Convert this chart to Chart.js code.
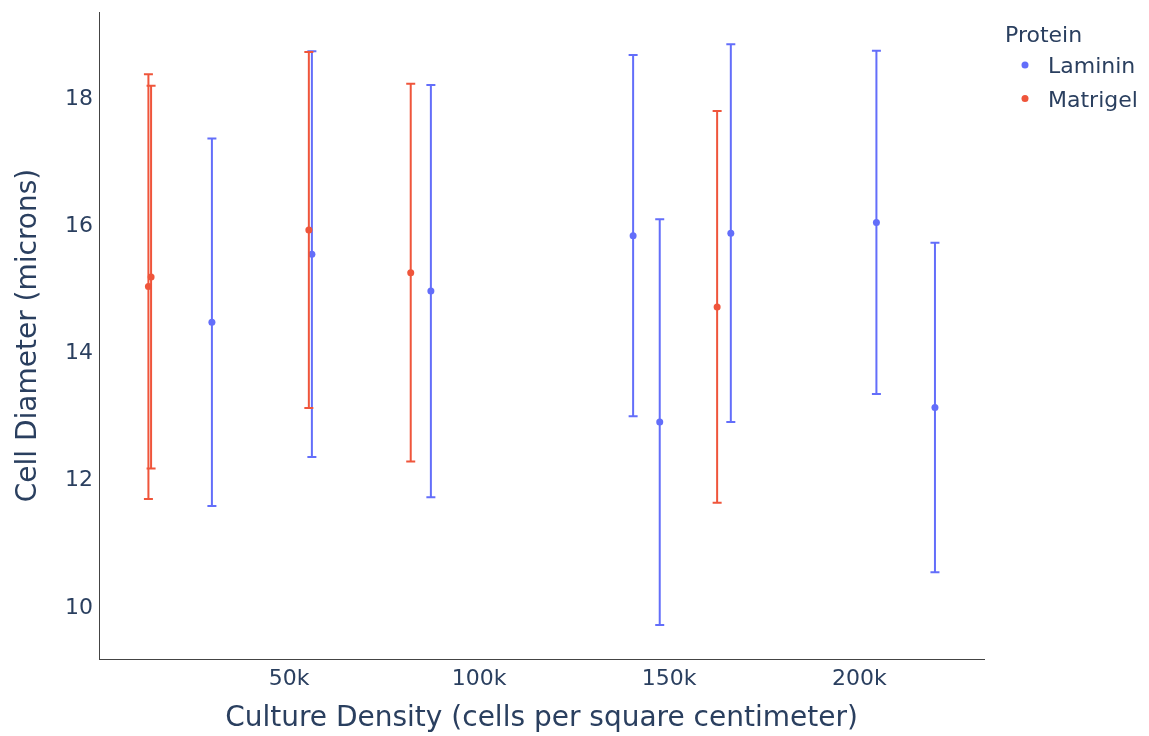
<!DOCTYPE html>
<html>
<head>
<meta charset="utf-8">
<script src="https://cdn.jsdelivr.net/npm/chart.js@4"></script>
<style>
  html, body { margin: 0; padding: 0; background: #fff; }
</style>
</head>
<body>
<canvas id="myChart" width="1149" height="736"></canvas>
<script>
// values
const lamininX = [29700, 56000, 87300, 140500, 147500, 166200, 204500, 219900];
const lamininY = [14.49, 15.56, 14.98, 15.85, 12.92, 15.89, 16.06, 13.15];
const lamininErr = [2.89, 3.19, 3.24, 2.84, 3.19, 2.97, 2.70, 2.59];

const matrigelX = [13000, 13700, 55200, 82000, 162600];
const matrigelY = [15.05, 15.20, 15.94, 15.27, 14.73];
const matrigelErr = [3.34, 3.01, 2.80, 2.97, 3.08];

const xTicks = [50000, 100000, 150000, 200000];
const yTicks = [10, 12, 14, 16, 18];

const legendTitle = 'Protein';
const textColor = '#2a3f5f';
const axisColor = '#444';

Chart.defaults.font.family = '"DejaVu Sans", Verdana, sans-serif';

function toPoints(xs, ys) {
  const pts = [];
  for (let i = 0; i < xs.length; i++) {
    pts.push({ x: xs[i], y: ys[i] });
  }
  return pts;
}

// error bars drawn just under each dataset's markers
const errorBars = {
  id: 'errorBars',
  beforeDatasetDraw(chart, args) {
    const ds = chart.data.datasets[args.index];
    const xScale = chart.scales.x;
    const yScale = chart.scales.y;
    const ctx = chart.ctx;
    ctx.save();
    ctx.strokeStyle = ds.borderColor;
    ctx.lineWidth = 2;
    for (let i = 0; i < ds.data.length; i++) {
      const p = ds.data[i];
      const e = ds.errors[i];
      const px = xScale.getPixelForValue(p.x);
      const top = yScale.getPixelForValue(p.y + e);
      const bot = yScale.getPixelForValue(p.y - e);
      ctx.beginPath();
      ctx.moveTo(px, top);
      ctx.lineTo(px, bot);
      ctx.moveTo(px - 4.5, top);
      ctx.lineTo(px + 4.5, top);
      ctx.moveTo(px - 4.5, bot);
      ctx.lineTo(px + 4.5, bot);
      ctx.stroke();
    }
    ctx.restore();
  },
};

// plotly-style legend on the right
const sideLegend = {
  id: 'sideLegend',
  afterDraw(chart) {
    const ctx = chart.ctx;
    ctx.save();
    ctx.font = '22px "DejaVu Sans"';
    ctx.textBaseline = 'alphabetic';
    ctx.fillStyle = textColor;
    ctx.fillText(legendTitle, 1005, 42);
    chart.data.datasets.forEach((ds, i) => {
      const base = 73.3 + i * 33.4;
      ctx.fillStyle = ds.backgroundColor;
      ctx.beginPath();
      ctx.arc(1025, base - 8.3, 3.5, 0, Math.PI * 2);
      ctx.fill();
      ctx.fillStyle = textColor;
      ctx.fillText(ds.label, 1048, base);
    });
    ctx.restore();
  },
};

const ctx = document.getElementById('myChart').getContext('2d');
new Chart(ctx, {
  type: 'scatter',
  data: {
    datasets: [
      {
        label: 'Laminin',
        data: toPoints(lamininX, lamininY),
        errors: lamininErr,
        backgroundColor: '#636efa',
        borderColor: '#636efa',
        pointRadius: 3.5,
        pointBorderWidth: 0,
        order: 1,
      },
      {
        label: 'Matrigel',
        data: toPoints(matrigelX, matrigelY),
        errors: matrigelErr,
        backgroundColor: '#ef553b',
        borderColor: '#ef553b',
        pointRadius: 3.5,
        pointBorderWidth: 0,
        order: 0,
      },
    ],
  },
  options: {
    responsive: false,
    animation: false,
    layout: { padding: { top: 12, right: 165, left: 0, bottom: 0 } },
    plugins: {
      legend: { display: false },
      tooltip: { enabled: false },
    },
    scales: {
      x: {
        type: 'linear',
        min: 0,
        max: 232800,
        grid: { display: false, drawTicks: false },
        border: { display: true, color: axisColor, width: 1 },
        afterBuildTicks(scale) {
          scale.ticks = xTicks.map((v) => ({ value: v }));
        },
        afterFit(scale) {
          scale.height = 77;
          scale.paddingLeft = 0;
          scale.paddingRight = 0;
        },
        ticks: {
          color: textColor,
          font: { size: 22 },
          padding: 7,
          maxRotation: 0,
          autoSkip: false,
          callback: (v) => v / 1000 + 'k',
        },
        title: {
          display: true,
          text: 'Culture Density (cells per square centimeter)',
          color: textColor,
          font: { size: 28 },
          padding: { top: 0, bottom: 0 },
        },
      },
      y: {
        min: 9.195,
        max: 19.368,
        grid: { display: false, drawTicks: false },
        border: { display: true, color: axisColor, width: 1 },
        afterBuildTicks(scale) {
          scale.ticks = yTicks.map((v) => ({ value: v }));
        },
        afterFit(scale) {
          scale.width = 99;
          scale.paddingTop = 0;
          scale.paddingBottom = 0;
        },
        ticks: {
          color: textColor,
          font: { size: 22 },
          padding: 6,
        },
        title: {
          display: true,
          text: 'Cell Diameter (microns)',
          color: textColor,
          font: { size: 28 },
          padding: { top: 12, bottom: 0 },
        },
      },
    },
  },
  plugins: [errorBars, sideLegend],
});
</script>
</body>
</html>
